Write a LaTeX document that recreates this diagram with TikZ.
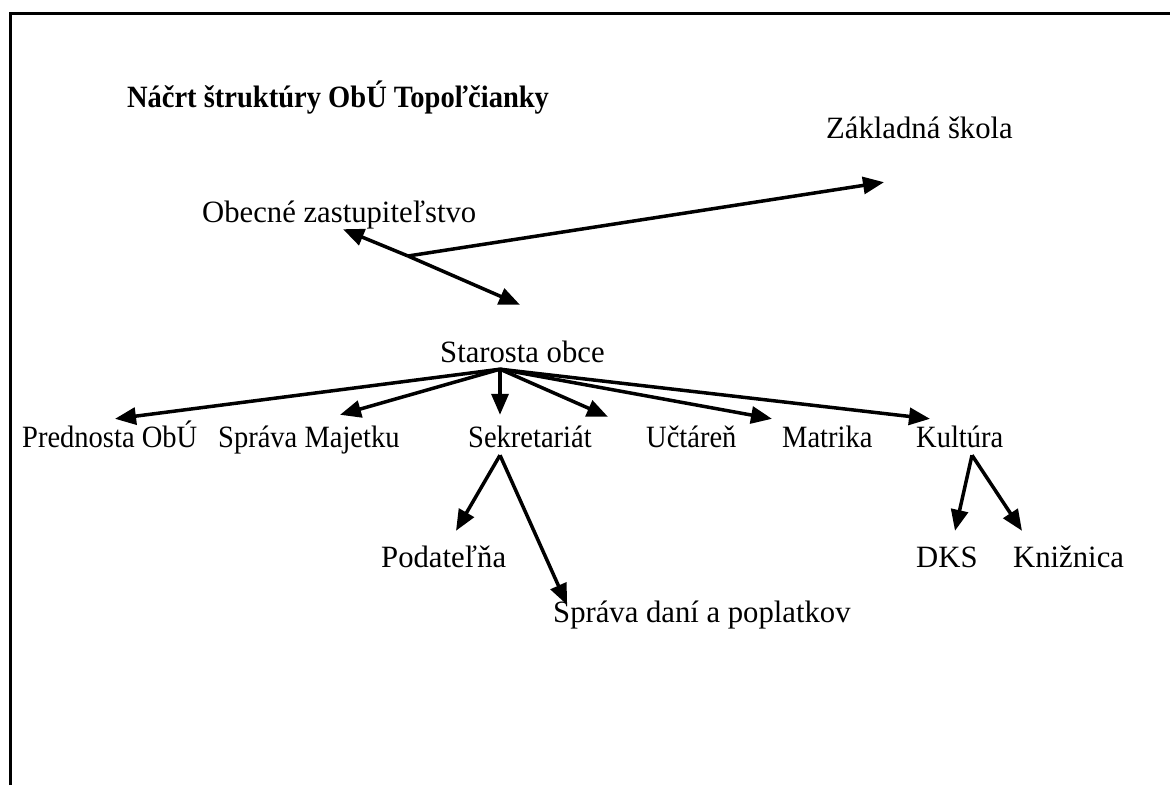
\documentclass[tikz,border=0pt]{standalone}
\usepackage{fontspec}
\setmainfont[FakeStretch=0.92]{Liberation Serif}
\newfontfamily\widerserif[FakeStretch=0.99]{Liberation Serif}
\usetikzlibrary{arrows.meta,calc}
\begin{document}
\begin{tikzpicture}[x=1pt,y=-1pt,
  lbl/.style={inner sep=0pt,anchor=base west,text height=19pt,text depth=6pt,font=\fontsize{31}{36}\selectfont},
  wlbl/.style={lbl,font=\fontsize{31}{36}\widerserif},
  arr/.style={line width=3.5pt,-{Triangle[length=21pt,width=17pt]}},
  frame/.style={line width=3pt}]
\useasboundingbox (0,0) rectangle (1170,785);
\draw[frame] (10,785) -- (10,13) -- (1170,13);
\node[inner sep=0pt,anchor=base,font=\fontsize{31}{36}\selectfont\bfseries] (title) at (338,107) {Náčrt štruktúry ObÚ Topoľčianky};
\node[wlbl] (zs) at (826,138) {Základná škola};
\node[wlbl] (oz) at (202,222) {Obecné zastupiteľstvo};
\node[wlbl] (st) at (440,362) {Starosta obce};
\node[lbl] (pred) at (22,447) {Prednosta ObÚ};
\node[lbl] (sprm) at (218,447) {Správa Majetku};
\node[lbl] (sekr) at (468,447) {Sekretariát};
\node[lbl] (uct) at (646,447) {Učtáreň};
\node[lbl] (matr) at (782,447) {Matrika};
\node[lbl] (kult) at (916,447) {Kultúra};
\node[wlbl] (pod) at (381,567) {Podateľňa};
\node[wlbl] (sdp) at (553,622) {Správa daní a poplatkov};
\node[wlbl] (dks) at (916,567) {DKS};
\node[wlbl] (kniz) at (1013,567) {Knižnica};
\coordinate (J) at (408,256);
\coordinate (H) at ($(st.south west)+(60,1)$);
\coordinate (S2) at ($(sekr.south west)+(32,2)$);
\coordinate (K2) at ($(kult.south west)+(56,2)$);
\draw[arr] (J) -- ($(zs.south west)+(58,38)$);
\draw[arr] (J) -- ($(oz.south west)+(141,1)$);
\draw[arr] (J) -- ($(st.north west)+(80,-38)$);
\draw[arr] (H) -- ($(pred.north west)+(93,-9)$);
\draw[arr] (H) -- ($(sprm.north west)+(122,-13)$);
\draw[arr] (H) -- ($(sekr.north west)+(32,-13)$);
\draw[arr] (H) -- ($(uct.north west)+(-38,-11)$);
\draw[arr] (H) -- ($(matr.north west)+(-10,-9)$);
\draw[arr] (H) -- ($(kult.north west)+(14,-9)$);
\draw[arr] (S2) -- ($(pod.north west)+(75,-17)$);
\draw[arr] (S2) -- ($(sdp.north west)+(14,2)$);
\draw[arr] (K2) -- ($(dks.north west)+(39,-17)$);
\draw[arr] (K2) -- ($(kniz.north west)+(9,-17)$);
\end{tikzpicture}
\end{document}
